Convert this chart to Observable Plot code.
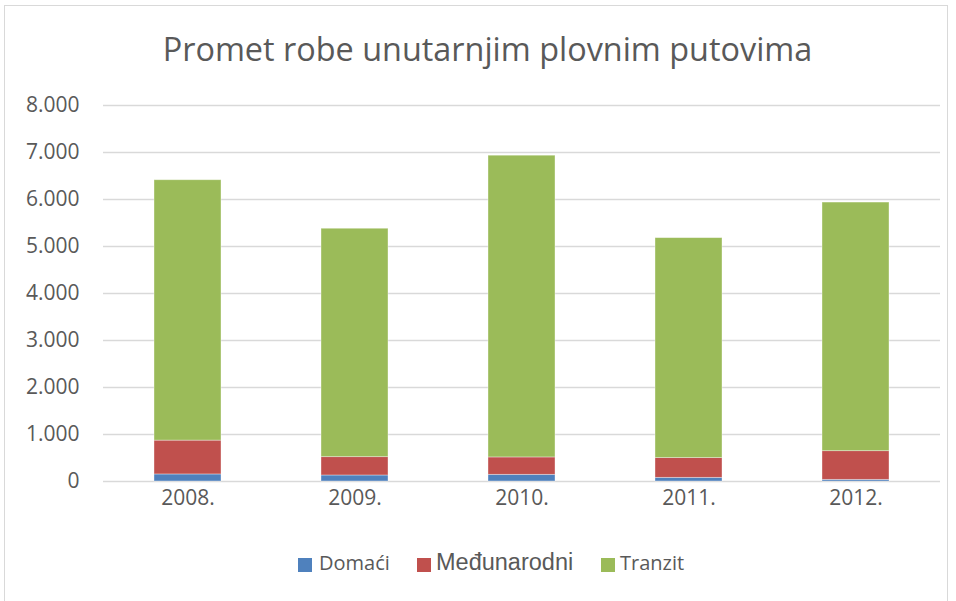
<!DOCTYPE html>
<html>
<head>
<meta charset="utf-8">
<script src="https://cdn.jsdelivr.net/npm/d3@7"></script>
<script src="https://cdn.jsdelivr.net/npm/@observablehq/plot@0.6"></script>
<style>
  html, body { margin: 0; padding: 0; background: #fff; }
  #wrap { position: relative; width: 956px; height: 601px; overflow: hidden; background: #fff; }
  #frame { position: absolute; left: 4px; top: 5px; width: 944px; height: 600px; border: 1px solid #d9d9d9; box-sizing: border-box; }
  #title { position: absolute; left: 0; top: 32px; width: 975px; text-align: center; font-family: "Open Sans", sans-serif; font-size: 32.4px; line-height: 32.4px; color: #595959; white-space: nowrap; }
  #chart { position: absolute; left: 0; top: 90px; }
  .leg-item { position: absolute; top: 0; color: #595959; white-space: nowrap; }
  .leg-sw { position: absolute; width: 14px; height: 14px; }
</style>
</head>
<body>
<div id="wrap">
  <div id="frame"></div>
  <div id="title">Promet robe unutarnjim plovnim putovima</div>
  <div id="chart"></div>
  <div id="legend"></div>
</div>
<script>
// Data
const years = ["2008.", "2009.", "2010.", "2011.", "2012."];
const seriesNames = ["Domaći", "Međunarodni", "Tranzit"];
const domaci = [150, 128, 142, 78, 35];
const medjunarodni = [720, 390, 370, 420, 610];
const tranzit = [5540, 4860, 6420, 4680, 5290];
const colors = ["#4F81BD", "#C0504D", "#9BBB59"];
const yTicks = [0, 1000, 2000, 3000, 4000, 5000, 6000, 7000, 8000];

const seriesValues = [domaci, medjunarodni, tranzit];
const rows = [];
years.forEach((y, i) => {
  seriesNames.forEach((s, j) => rows.push({year: y, series: s, value: seriesValues[j][i]}));
});

const fmt = d3.formatLocale({decimal: ",", thousands: ".", grouping: [3], currency: ["", ""]}).format(",");

const H = 440;
const chart = Plot.plot({
  width: 956,
  height: H,
  marginTop: 15,
  marginBottom: H - 391,
  marginLeft: 103,
  marginRight: 16,
  style: {fontFamily: "'Open Sans', sans-serif", fontSize: "21px", color: "#595959", background: "transparent"},
  x: {domain: years, paddingInner: 0.6, paddingOuter: 0.3, label: null, tickSize: 0, tickPadding: 9},
  y: {domain: [0, 8000], ticks: yTicks, tickFormat: d => fmt(d), label: null, tickSize: 0, tickPadding: 24},
  color: {domain: seriesNames, range: colors},
  marks: [
    Plot.gridY(yTicks, {stroke: "#d9d9d9", strokeOpacity: 1, strokeWidth: 1.3}),
    Plot.barY(rows, Plot.stackY({
      x: "year", y: "value", fill: "series", order: seriesNames,
      stroke: "#ffffff", strokeWidth: 0.8, strokeOpacity: 0.45
    })),
    Plot.axisX({tickSize: 0, tickPadding: 9, fontSize: 21, fill: "#595959"}),
    Plot.axisY({ticks: yTicks, tickFormat: d => fmt(d), tickSize: 0, tickPadding: 24, fontSize: 21, fill: "#595959"})
  ]
});
document.getElementById("chart").appendChild(chart);

// Legend
const legend = document.getElementById("legend");
const legPos = [
  {sw: 298, text: 319, font: "'Open Sans', sans-serif", size: 20, top: 551},
  {sw: 417, text: 436, font: "'Liberation Sans', Arial, sans-serif", size: 23.5, top: 548},
  {sw: 601, text: 620, font: "'Open Sans', sans-serif", size: 20, top: 551}
];
seriesNames.forEach((s, j) => {
  const sw = document.createElement("div");
  sw.className = "leg-sw";
  sw.style.left = legPos[j].sw + "px";
  sw.style.top = "558px";
  sw.style.background = colors[j];
  legend.appendChild(sw);
  const t = document.createElement("div");
  t.className = "leg-item";
  t.textContent = s;
  t.style.left = legPos[j].text + "px";
  t.style.top = legPos[j].top + "px";
  t.style.fontFamily = legPos[j].font;
  t.style.fontSize = legPos[j].size + "px";
  t.style.lineHeight = "1.2";
  legend.appendChild(t);
});
</script>
</body>
</html>
